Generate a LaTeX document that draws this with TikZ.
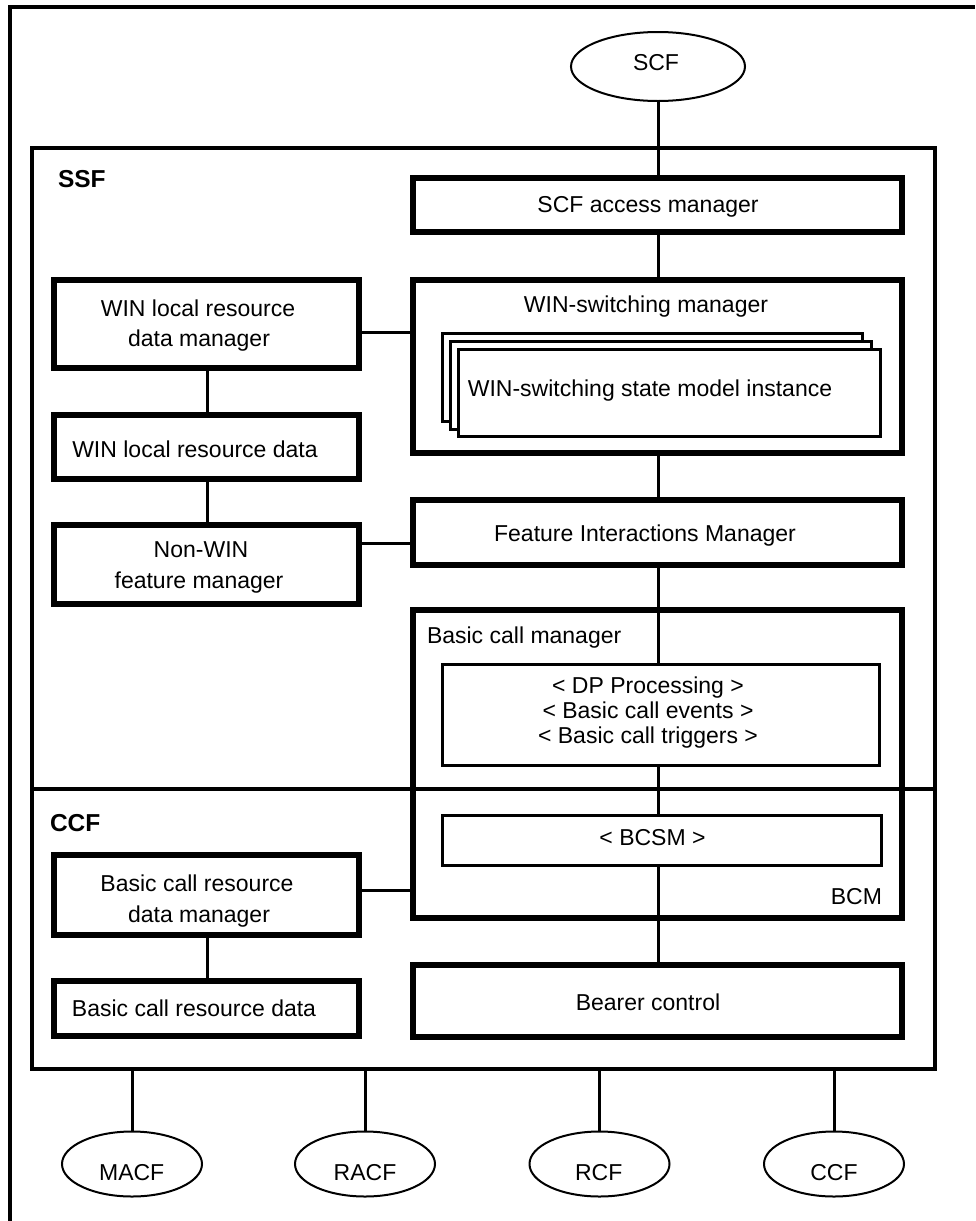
\documentclass[tikz,border=0pt]{standalone}
\usepackage{fontspec}
\setmainfont{Liberation Sans}
\usetikzlibrary{shapes.geometric}
\begin{document}
\begin{tikzpicture}[x=1pt,y=-1pt,
  thickbox/.style={draw, rectangle, line width=5.5pt, inner sep=0pt, outer sep=0pt, fill=white},
  thinbox/.style={draw, rectangle, line width=3pt, inner sep=0pt, outer sep=0pt, fill=white},
  framebox/.style={draw, rectangle, line width=3.5pt, inner sep=0pt, outer sep=0pt},
  conn/.style={line width=3pt},
  lbl/.style={inner sep=0pt, outer sep=0pt, font=\fontsize{23}{28}\selectfont},
  blbl/.style={inner sep=0pt, outer sep=0pt, font=\bfseries\fontsize{24.5}{30}\selectfont},
  ell/.style={draw, ellipse, line width=2pt, inner sep=0pt, outer sep=0pt, fill=white}
]
\useasboundingbox (0,0) rectangle (975,1221);
% outer frame
\draw[line width=3.5pt] (10,1221) -- (10,7) -- (975,7);
% SSF / CCF region
\node[framebox, minimum width=903pt, minimum height=921pt] (ssf) at (483.5,608.5) {};
\node[blbl, anchor=base west] (ssflbl) at (58,187) {SSF};
\node[blbl, anchor=base west] (ccflbl) at (50,831.7) {CCF};
\coordinate (sp) at (658,0);

% SCF
\node[ell, minimum width=174pt, minimum height=69pt] (scf) at (658,66.5) {};
\node[lbl, anchor=base] (scft) at (656,70) {SCF};

% right column
\node[thickbox, minimum width=489pt, minimum height=54pt] (acc) at (657.5,205) {};
\node[lbl, anchor=base] (acct) at (648,212) {SCF access manager};

\node[thickbox, minimum width=489pt, minimum height=173pt] (winsw) at (657.5,366.5) {};
\node[lbl, anchor=base] (winswt) at (646,312) {WIN-switching manager};
\node[thinbox, minimum width=420pt, minimum height=88pt] (stk1) at (652,377) {};
\node[thinbox, minimum width=421pt, minimum height=88pt] (stk2) at (660.5,385) {};
\node[thinbox, minimum width=422pt, minimum height=87pt] (stk3) at (669,392.5) {};
\node[lbl, anchor=base] (stkt) at (650,396) {WIN-switching state model instance};

\node[thickbox, minimum width=489pt, minimum height=65pt] (fim) at (657.5,532.5) {};
\node[lbl, anchor=base] (fimt) at (645,541.5) {Feature Interactions Manager};

\node[thickbox, minimum width=489pt, minimum height=308pt] (bcm) at (657.5,764) {};
% SSF / CCF divider (crosses the BCM box)
\draw[line width=3.5pt] (ssf.west |- 0,789) -- (ssf.east |- 0,789);
\node[lbl, anchor=base west] (bcmt) at (427,643) {Basic call manager};
\node[thinbox, minimum width=437pt, minimum height=101pt] (dp) at (660.5,714.5) {};
\node[lbl, anchor=base] (dpa) at (648,693) {< DP Processing >};
\node[lbl, anchor=base] (dpb) at (648,718.3) {< Basic call events >};
\node[lbl, anchor=base] (dpc) at (648,743.3) {< Basic call triggers >};
\node[thinbox, minimum width=439pt, minimum height=50pt] (bcsm) at (661.5,840) {};
\node[lbl, anchor=base] (bcsmt) at (652.5,845.7) {< BCSM >};
\node[lbl, anchor=base east] (bcmlbl) at (882,904.3) {BCM};

\node[thickbox, minimum width=489pt, minimum height=72pt] (bearer) at (657.5,1001) {};
\node[lbl, anchor=base] (bearert) at (648,1010) {Bearer control};

% left column
\node[thickbox, minimum width=305pt, minimum height=88pt] (wlrdm) at (206.5,324) {};
\node[lbl, anchor=base] (wlrdma) at (198,316.5) {WIN local resource};
\node[lbl, anchor=base] (wlrdmb) at (199,346) {data manager};

\node[thickbox, minimum width=305pt, minimum height=64pt] (wlrd) at (206.5,447) {};
\node[lbl, anchor=base] (wlrdt) at (195,457.3) {WIN local resource data};

\node[thickbox, minimum width=305pt, minimum height=79pt] (nonwin) at (206.5,564.5) {};
\node[lbl, anchor=base] (nonwina) at (201,557.3) {Non-WIN};
\node[lbl, anchor=base] (nonwinb) at (199,588.3) {feature manager};

\node[thickbox, minimum width=305pt, minimum height=80pt] (bcrdm) at (206.5,895) {};
\node[lbl, anchor=base] (bcrdma) at (197,891) {Basic call resource};
\node[lbl, anchor=base] (bcrdmb) at (199,922) {data manager};

\node[thickbox, minimum width=305pt, minimum height=55pt] (bcrd) at (206.5,1008.5) {};
\node[lbl, anchor=base] (bcrdt) at (194,1016.7) {Basic call resource data};

% bottom ellipses
\node[ell, minimum width=140pt, minimum height=65pt] (macf) at (132,1164) {};
\node[ell, minimum width=140pt, minimum height=65pt] (racf) at (365,1164) {};
\node[ell, minimum width=140pt, minimum height=65pt] (rcf) at (599.5,1164) {};
\node[ell, minimum width=140pt, minimum height=65pt] (ccf) at (834,1164) {};
\node[lbl, anchor=base] (macft) at (131.7,1180) {MACF};
\node[lbl, anchor=base] (racft) at (365,1180) {RACF};
\node[lbl, anchor=base] (rcft) at (598.7,1180) {RCF};
\node[lbl, anchor=base] (ccft) at (834,1180) {CCF};

% spine connectors
\draw[conn] (scf.south) -- (scf.south |- acc.north);
\draw[conn] (acc.south -| sp) -- (winsw.north -| sp);
\draw[conn] (winsw.south -| sp) -- (fim.north -| sp);
\draw[conn] (fim.south -| sp) -- (dp.north -| sp);
\draw[conn] (dp.south -| sp) -- (bcsm.north -| sp);
\draw[conn] (bcsm.south -| sp) -- (bearer.north -| sp);

% left connectors
\draw[conn] (wlrdm.east |- 0,332) -- (winsw.west |- 0,332);
\draw[conn] (wlrdm.south -| 207,0) -- (wlrd.north -| 207,0);
\draw[conn] (wlrd.south -| 207,0) -- (nonwin.north -| 207,0);
\draw[conn] (nonwin.east |- 0,543) -- (fim.west |- 0,543);
\draw[conn] (bcrdm.east |- 0,890.5) -- (bcm.west |- 0,890.5);
\draw[conn] (bcrdm.south -| 207,0) -- (bcrd.north -| 207,0);

% bottom connectors
\draw[conn] (macf.north) -- (macf.north |- ssf.south);
\draw[conn] (racf.north) -- (racf.north |- ssf.south);
\draw[conn] (rcf.north) -- (rcf.north |- ssf.south);
\draw[conn] (ccf.north) -- (ccf.north |- ssf.south);
\end{tikzpicture}
\end{document}
